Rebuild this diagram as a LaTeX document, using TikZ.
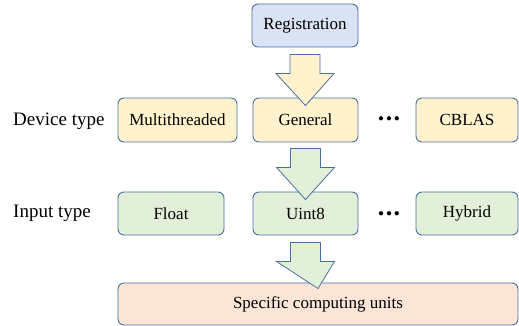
\documentclass[tikz,border=0pt]{standalone}
\usepackage{fontspec}
\setmainfont{Liberation Serif}
\usetikzlibrary{calc}
\definecolor{bordc}{HTML}{4A6FA5}
\definecolor{bluef}{HTML}{DAE3F3}
\definecolor{yelf}{HTML}{FFF2CC}
\definecolor{grnf}{HTML}{E2F0D9}
\definecolor{orgf}{HTML}{FBE5D6}
\tikzset{
  box/.style={draw=bordc, line width=0.9pt, rounded corners=6pt, minimum height=43pt, inner sep=0pt, font=\fontsize{17}{19}\selectfont},
  lbl/.style={anchor=west, inner sep=0pt, font=\fontsize{19}{21}\selectfont},
  barrow/.style={draw=bordc, line width=0.8pt},
  dotsstyle/.style={inner sep=0pt, font=\fontsize{11}{11}\selectfont}
}
\newcommand{\blockarrow}[3]{% fill, top coordinate, tip coordinate
  \filldraw[barrow, fill=#1] ($(#2)+(-15,0)$) -- ($(#2)+(15,0)$) -- ($(#2)+(15,19)$) -- ($(#2)+(29,19)$) -- (#3) -- ($(#2)+(-29,19)$) -- ($(#2)+(-15,19)$) -- cycle;}
\begin{document}
\begin{tikzpicture}[x=1pt,y=-1pt]
\useasboundingbox (0,0) rectangle (519,326);
\node[box, fill=bluef, minimum width=106pt] (reg) at (305,25.5) {Registration};
\node[box, fill=yelf, minimum width=119pt, minimum height=44pt] (multi) at (177.5,120) {Multithreaded};
\node[box, fill=yelf, minimum width=105pt, minimum height=44pt] (gen) at (305.5,120) {General};
\node[box, fill=yelf, minimum width=102pt, minimum height=44pt] (cblas) at (467,120) {CBLAS};
\node[box, fill=grnf, minimum width=106pt] (float) at (171,213.5) {Float};
\node[box, fill=grnf, minimum width=105pt] (uint) at (305.5,213.5) {Uint8};
\node[box, fill=grnf, minimum width=102pt] (hyb) at (467,213.5) {Hybrid};
\node[box, fill=orgf, minimum width=400pt, minimum height=42pt] (spec) at (318,304) {Specific computing units};
\node[lbl] (dev) at (13,121) {Device type};
\node[lbl] (inp) at (13,213) {Input type};
\node[dotsstyle] (d1) at (389,119) {$\bullet$\hspace{2.5pt}$\bullet$\hspace{2.5pt}$\bullet$};
\node[dotsstyle] (d2) at (389,214) {$\bullet$\hspace{2.5pt}$\bullet$\hspace{2.5pt}$\bullet$};
\coordinate (a1t) at ($(reg.south)+(0,7)$);
\coordinate (a1h) at ($(gen.north)+(0,8)$);
\coordinate (a2t) at ($(gen.south)+(0,6)$);
\coordinate (a2h) at ($(uint.north)+(0,8)$);
\coordinate (a3t) at ($(uint.south)+(0,7)$);
\coordinate (a3h) at ($(spec.north)+(0,6)$);
\blockarrow{yelf}{a1t}{a1h}
\blockarrow{grnf}{a2t}{a2h}
\blockarrow{grnf}{a3t}{a3h}
\end{tikzpicture}
\end{document}
